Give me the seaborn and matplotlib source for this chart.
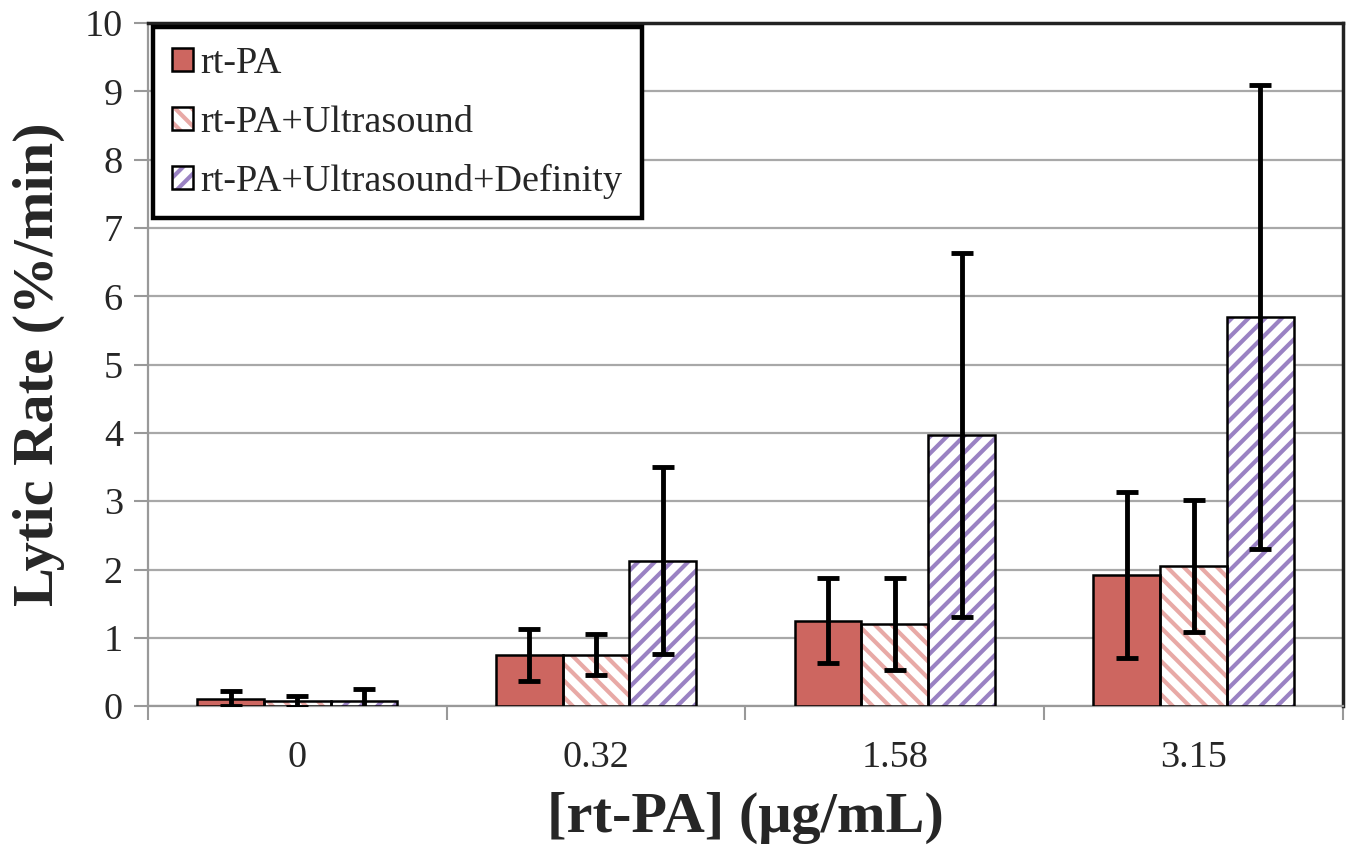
import numpy as np
import pandas as pd
import seaborn as sns
import matplotlib.pyplot as plt
from matplotlib.patches import Patch, Rectangle

# data
concentrations = ['0', '0.32', '1.58', '3.15']
treatments = ['rt-PA', 'rt-PA+Ultrasound', 'rt-PA+Ultrasound+Definity']
rate_rtpa = [0.11, 0.75, 1.25, 1.92]
rate_us = [0.07, 0.75, 1.20, 2.05]
rate_def = [0.08, 2.13, 3.97, 5.70]
err_rtpa = [0.11, 0.38, 0.62, 1.22]
err_us = [0.08, 0.30, 0.67, 0.97]
err_def = [0.17, 1.37, 2.67, 3.40]

colors = ['#CD6660', '#E8A9A6', '#9A82C3']
hatches = [None, '\\\\', '//']

sns.set_style('white')
plt.rcParams['font.family'] = ['Liberation Serif', 'DejaVu Serif']
plt.rcParams['hatch.linewidth'] = 3.0

rows = []
for t, vals in zip(treatments, [rate_rtpa, rate_us, rate_def]):
    for c, v in zip(concentrations, vals):
        rows.append({'conc': c, 'treatment': t, 'rate': v})
df = pd.DataFrame(rows)

fig, ax = plt.subplots(figsize=(13.51, 8.58), dpi=100)
fig.subplots_adjust(left=0.1095, right=0.994, bottom=0.177, top=0.973)

sns.barplot(data=df, x='conc', y='rate', hue='treatment', order=concentrations,
            hue_order=treatments, palette=colors, width=0.67, gap=0,
            errorbar=None, saturation=1, ax=ax, zorder=3)

# restyle bars: coloured hatch inside, black outline on top
errs = err_rtpa + err_us + err_def
bars = [p for p in ax.patches if isinstance(p, Rectangle)][:12]
xs, hs = [], []
for i, p in enumerate(bars):
    k = i // 4
    if hatches[k]:
        p.set_facecolor('white')
        p.set_edgecolor(colors[k])
        p.set_hatch(hatches[k])
        p.set_linewidth(0)
    else:
        p.set_edgecolor('none')
    ax.add_patch(Rectangle((p.get_x(), 0), p.get_width(), p.get_height(),
                           fill=False, edgecolor='black', linewidth=1.8, zorder=4))
    xs.append(p.get_x() + p.get_width() / 2)
    hs.append(p.get_height())

ax.errorbar(xs, hs, yerr=errs, fmt='none', ecolor='black', elinewidth=3.5,
            capsize=8, capthick=3.5, zorder=5)

ax.set_ylim(0, 10)
ax.set_xlim(-0.5, 3.5)
ax.set_yticks(range(0, 11))
ax.yaxis.grid(True, color='#A8A8A8', linewidth=1.6, zorder=0)
ax.set_axisbelow(True)
ax.tick_params(axis='y', labelsize=27.5, length=10, width=1.5, color='#999999',
               left=True, direction='out', pad=8)
ax.set_xticks(range(4))
ax.set_xticklabels(concentrations)
ax.tick_params(axis='x', which='major', labelsize=27.5, length=0, pad=25)
ax.set_xticks(np.arange(-0.5, 4, 1), minor=True)
ax.tick_params(axis='x', which='minor', length=10, width=1.5, color='#999999',
               bottom=True, direction='out')

for s in ['left', 'bottom']:
    ax.spines[s].set_color('#999999')
    ax.spines[s].set_linewidth(1.6)
for s in ['top', 'right']:
    ax.spines[s].set_color('#222222')
    ax.spines[s].set_linewidth(2.5)

ax.set_xlabel('[rt-PA] (μg/mL)', fontsize=42, fontweight='bold', labelpad=12)
ax.set_ylabel('Lytic Rate (%/min)', fontsize=42, fontweight='bold', labelpad=14)

handles = []
for k in range(3):
    if hatches[k]:
        fill = Patch(facecolor='white', edgecolor=colors[k], hatch=hatches[k], linewidth=0)
    else:
        fill = Patch(facecolor=colors[k], edgecolor='none')
    outline = Patch(facecolor='none', edgecolor='black', linewidth=1.8)
    handles.append((fill, outline))

ax.get_legend().remove()
leg = ax.legend(handles, treatments, loc='upper left', bbox_to_anchor=(0.004, 0.994),
                borderaxespad=0, fontsize=27.5, frameon=True, fancybox=False,
                framealpha=1, handlelength=0.55, handleheight=0.55, handletextpad=0.2,
                labelspacing=0.64, borderpad=0.5)
leg.get_frame().set_edgecolor('black')
leg.get_frame().set_linewidth(3.2)
leg.set_zorder(10)

fig.savefig('out.png', dpi=100)
